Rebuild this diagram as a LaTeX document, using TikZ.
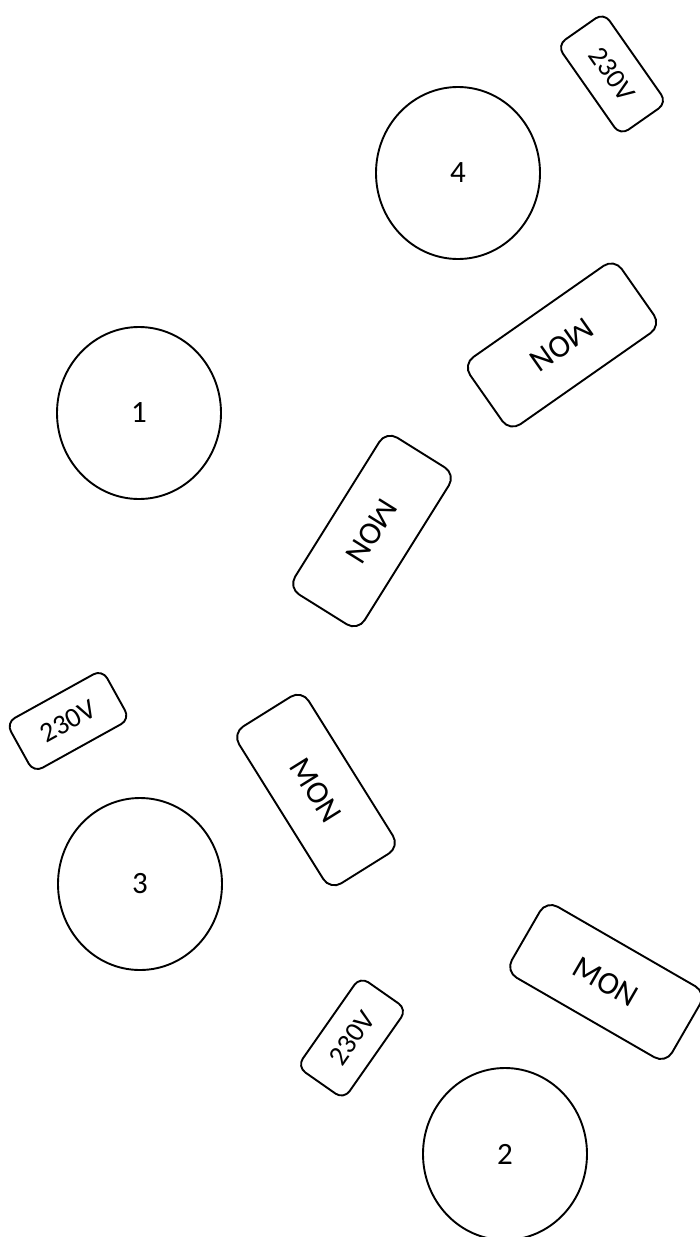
\documentclass[tikz,border=0pt]{standalone}
\usepackage{fontspec}
\setmainfont{Carlito}
\usetikzlibrary{shapes.geometric}
\begin{document}
\begin{tikzpicture}[x=1pt,y=1pt,
  disc/.style={draw, ellipse, line width=1.9pt, minimum width=164pt, minimum height=172pt, inner sep=0pt, font=\fontsize{31}{35}\selectfont},
  bigtag/.style={draw, rounded corners=13pt, line width=1.9pt, minimum width=185pt, minimum height=82pt, inner sep=0pt, font=\fontsize{32}{36}\selectfont},
  smalltag/.style={draw, rounded corners=10pt, line width=1.9pt, minimum width=110pt, minimum height=57pt, inner sep=0pt, font=\fontsize{28}{32}\selectfont}]
\useasboundingbox (0,0) rectangle (699,-1237);
\node[disc] (c4) at (458,-173) {4};
\node[disc] (c1) at (139,-413) {1};
\node[disc] (c3) at (140,-884) {3};
\node[disc] (c2) at (505,-1154) {2};
\node[smalltag, rotate=-55] (ta) at (612,-74) {230V};
\node[bigtag, rotate=215] (tb) at (562,-345) {MON};
\node[bigtag, rotate=238] (tc) at (372,-531) {MON};
\node[bigtag, rotate=-58] (td) at (316,-790) {MON};
\node[bigtag, rotate=-30] (te) at (606,-982) {MON};
\node[smalltag, rotate=55] (tf) at (352,-1038) {230V};
\node[smalltag, rotate=29] (tg) at (68,-721) {230V};
\end{tikzpicture}
\end{document}
